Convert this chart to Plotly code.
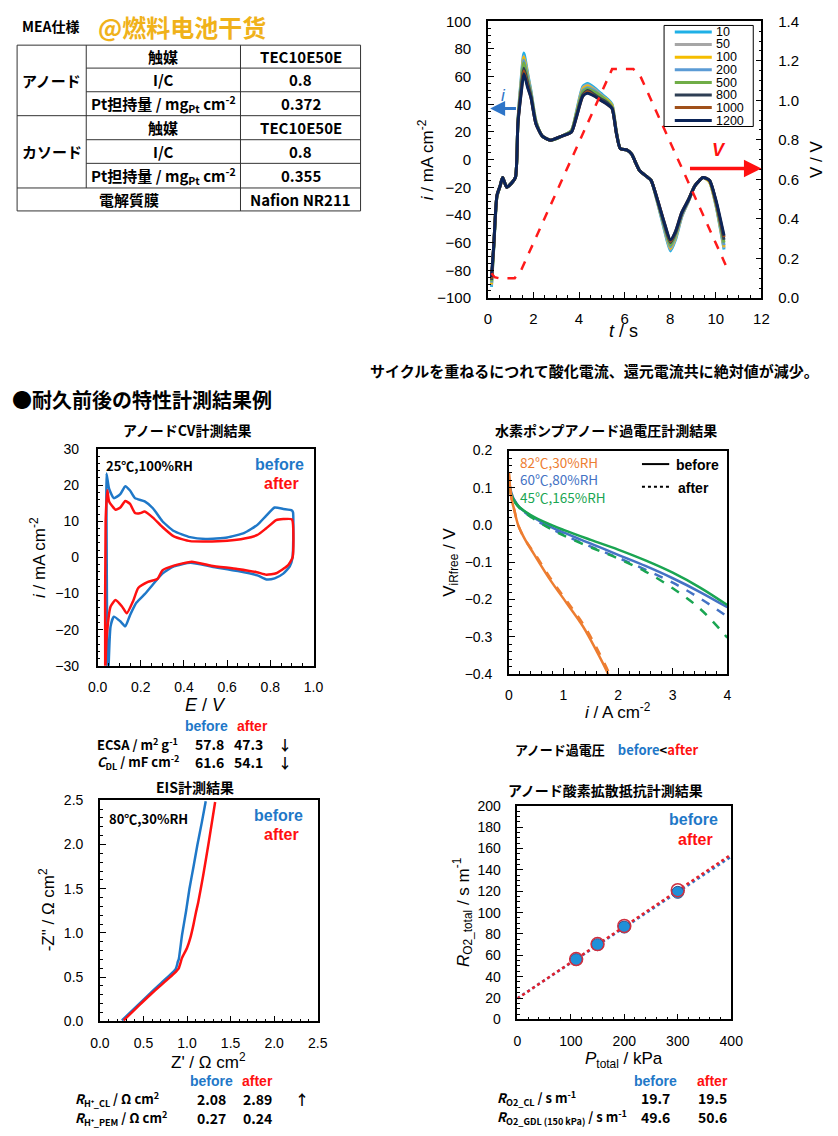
import plotly.graph_objects as go

W, H = 838, 1136
def X(p): return p / W
def Y(p): return 1 - p / H

BLUE = "#1f78c8"
RED = "#ff1010"
JP = "Noto Sans CJK JP"
LAT = "Liberation Sans, Arial"
NAR = "Liberation Sans Narrow, Liberation Sans, Noto Sans CJK JP"

# ---------------- data: CV cycling (top right) ----------------
t_s = [0.16, 0.26, 0.4, 0.54, 0.65, 0.83, 1.04, 1.21, 1.32, 1.47, 1.58, 1.75, 1.89, 2.11, 2.39,
       2.75, 3.25, 3.67, 3.89, 4.17, 4.38, 4.67, 4.95, 5.24, 5.45, 5.64, 5.81, 6.09, 6.31, 6.45,
       6.66, 6.95, 7.16, 7.44, 7.73, 8.01, 8.23, 8.51, 8.8, 9.08, 9.44, 9.72, 10.0, 10.36]
i_10 = [-92, -64, -27, -19, -13, -20, -17, -13, 28, 60, 77, 62, 50, 28, 17, 14, 17, 21, 35, 53, 55, 52,
        48, 44, 40, 20, 8, 7, 4, -1, -8, -12, -15, -31, -50, -66, -58, -41, -30, -19, -13, -16, -33, -65]
i_50 = [-91, -64, -27, -19, -13, -20, -17, -13, 28, 58, 75, 61, 49, 28, 17, 14, 17, 21, 34, 52, 54, 51,
        47, 43, 39, 20, 8, 7, 4, -1, -8, -12, -15, -31, -49, -65, -57, -41, -30, -19, -13, -16, -32, -64]
i_100 = [-90, -63, -27, -19, -13, -20, -17, -13, 27, 57, 74, 60, 48, 27, 17, 14, 17, 21, 34, 51, 53, 50,
         46, 43, 39, 20, 8, 7, 4, -1, -8, -12, -15, -30, -48, -64, -56, -40, -30, -19, -13, -16, -32, -63]
i_200 = [-89, -63, -27, -19, -13, -20, -17, -13, 27, 56, 72, 59, 48, 27, 17, 14, 17, 21, 33, 50, 52, 50,
         46, 42, 38, 20, 8, 7, 4, -1, -8, -12, -15, -30, -48, -63, -55, -40, -30, -19, -13, -15, -31, -62]
i_500 = [-88, -63, -26, -19, -13, -20, -17, -13, 27, 54, 70, 57, 47, 27, 17, 14, 17, 21, 33, 49, 51, 49,
         46, 42, 38, 19, 8, 7, 4, -1, -8, -12, -15, -30, -47, -62, -54, -39, -29, -19, -13, -15, -31, -60]
i_800 = [-87, -62, -26, -19, -13, -20, -17, -13, 26, 52, 66, 55, 46, 26, 17, 14, 17, 20, 32, 47, 50, 47,
         44, 41, 37, 19, 8, 7, 4, -1, -8, -12, -15, -29, -46, -60, -53, -39, -29, -19, -13, -15, -30, -58]
i_1000 = [-86, -62, -26, -19, -13, -20, -17, -13, 26, 50, 64, 53, 45, 26, 17, 14, 17, 20, 31, 46, 49, 46,
          43, 40, 37, 19, 8, 7, 4, -1, -8, -12, -15, -29, -45, -59, -52, -38, -29, -19, -13, -15, -30, -56]
i_1200 = [-85, -62, -26, -19, -13, -20, -17, -13, 26, 49, 62, 52, 45, 26, 17, 14, 17, 20, 31, 46, 48, 46,
          43, 40, 37, 19, 8, 7, 4, -1, -8, -12, -15, -29, -45, -58, -52, -38, -29, -19, -13, -15, -29, -55]
cycle_labels = ["10", "50", "100", "200", "500", "800", "1000", "1200"]
cycle_currents = [i_10, i_50, i_100, i_200, i_500, i_800, i_1000, i_1200]
cycle_colors = ["#1fb0e6", "#a6a6a6", "#f5bd00", "#5b9bd5", "#70ad47", "#2e3f55", "#a0501a", "#0b2458"]
v_t = [0.16, 0.3, 0.47, 1.18, 1.46, 5.45, 6.38, 6.66, 10.43]
v_v = [0.125, 0.105, 0.1, 0.1, 0.14, 1.158, 1.158, 1.13, 0.167]

# ---------------- data: anode CV before/after ----------------
cv_before_E = [0.045, 0.041, 0.041, 0.053, 0.075, 0.105, 0.128, 0.15, 0.173, 0.218, 0.256, 0.3, 0.353,
               0.428, 0.5, 0.6, 0.68, 0.74, 0.78, 0.82, 0.86, 0.9, 0.905, 0.903, 0.89, 0.86, 0.82, 0.782,
               0.74, 0.65, 0.53, 0.43, 0.353, 0.3, 0.256, 0.218, 0.18, 0.15, 0.128, 0.105, 0.075, 0.06, 0.05]
cv_before_i = [-32, 10, 23.2, 19, 16.4, 17.5, 19.7, 18.5, 16.4, 15.5, 13.6, 10, 7.3, 5.6, 5.1, 5.5, 6.8,
               9, 11.5, 13.8, 13.4, 13, 12.5, 0, -2.5, -4.5, -5.8, -6.1, -5, -3.8, -2.6, -1.5, -2.5, -4.5,
               -7.5, -10.2, -12.5, -16, -19.1, -17.7, -16.4, -19.1, -32]
cv_after_E = [0.035, 0.037, 0.045, 0.053, 0.083, 0.105, 0.128, 0.15, 0.173, 0.195, 0.218, 0.256, 0.3,
              0.353, 0.428, 0.5, 0.6, 0.68, 0.74, 0.78, 0.827, 0.86, 0.9, 0.903, 0.88, 0.827, 0.782, 0.737,
              0.647, 0.526, 0.436, 0.353, 0.3, 0.278, 0.233, 0.188, 0.165, 0.135, 0.113, 0.083, 0.06,
              0.041, 0.035]
cv_after_i = [-32, 10, 18.6, 15.5, 13.2, 13.8, 15.6, 14.8, 12.3, 12.2, 12.7, 11, 8.4, 5.8, 4.5, 4.4, 4.6,
              5.2, 6.2, 8, 10.3, 10.6, 10.5, 0, -2.3, -4.4, -4.8, -4.1, -3.2, -2.3, -1.2, -2.3, -3.6, -5.9,
              -6.8, -8.5, -12, -15.5, -13.6, -11.8, -13.6, -22.7, -32]

# ---------------- data: hydrogen pump anode overpotential ----------------
hp_i = [0, 0.05, 0.1, 0.2, 0.4, 0.7, 1.0, 1.5, 2.0, 2.5, 3.0, 3.5, 4.0]
hp_i_82 = [0, 0.05, 0.1, 0.17, 0.3, 0.46, 0.76, 1.06, 1.355, 1.59, 1.80, 1.84]
hp_82_before = [0.14, 0.07, 0.04, 0.0, -0.04, -0.078, -0.148, -0.21, -0.272, -0.334, -0.395, -0.41]
hp_i_82_after = [0, 0.05, 0.1, 0.17, 0.3, 0.48, 0.785, 1.09, 1.385, 1.62, 1.825, 1.86]
hp_82_after = [0.14, 0.07, 0.04, 0.0, -0.04, -0.078, -0.148, -0.21, -0.272, -0.334, -0.395, -0.41]
hp_60_before = [0.118, 0.085, 0.067, 0.047, 0.025, 0.0, -0.02, -0.05, -0.08, -0.11, -0.143, -0.18, -0.221]
hp_60_after = [0.118, 0.085, 0.067, 0.046, 0.022, -0.004, -0.026, -0.058, -0.088, -0.12, -0.155, -0.197, -0.246]
hp_45_before = [0.105, 0.08, 0.065, 0.047, 0.027, 0.005, -0.013, -0.04, -0.066, -0.095, -0.128, -0.168, -0.215]
hp_45_after = [0.108, 0.08, 0.064, 0.045, 0.022, -0.005, -0.028, -0.06, -0.09, -0.125, -0.17, -0.225, -0.303]
ORANGE, HBLUE, GREEN = "#ed7d31", "#4472c4", "#1aa552"

# ---------------- data: EIS ----------------
eis_before_re = [0.253, 0.4, 0.55, 0.7, 0.8, 0.87, 0.887, 0.893, 0.905, 0.943, 0.99, 1.028, 1.075, 1.12, 1.17, 1.215]
eis_before_im = [0.01, 0.15, 0.29, 0.43, 0.52, 0.59, 0.643, 0.67, 0.70, 0.977, 1.25, 1.5, 1.75, 2.0, 2.25, 2.49]
eis_after_re = [0.272, 0.45, 0.6, 0.757, 0.85, 0.905, 0.943, 1.0, 1.04, 1.073, 1.1, 1.129, 1.185, 1.248, 1.323]
eis_after_im = [0.01, 0.18, 0.32, 0.457, 0.54, 0.6, 0.718, 0.83, 0.95, 1.088, 1.22, 1.348, 1.646, 2.017, 2.48]

# ---------------- data: O2 diffusion resistance ----------------
o2_p = [110, 150, 200, 300]
o2_before = [56, 70, 86.5, 119]
o2_after = [56.5, 70.5, 87.5, 121]
fit_p = [0, 400]
fit_before = [19.7, 152.5]
fit_after = [19.5, 154.5]

fig = go.Figure()

# top-right chart
for lab, vals, col in zip(cycle_labels, cycle_currents, cycle_colors):
    fig.add_trace(go.Scatter(x=t_s, y=vals, mode="lines", name=lab,
                             line=dict(color=col, width=3, shape="spline", smoothing=0.6),
                             xaxis="x", yaxis="y", showlegend=False))
fig.add_trace(go.Scatter(x=v_t, y=v_v, mode="lines", line=dict(color="#ff1a1a", width=2.5, dash="dash"),
                         xaxis="x", yaxis="y2", showlegend=False))

# CV
fig.add_trace(go.Scatter(x=cv_before_E, y=cv_before_i, mode="lines",
                         line=dict(color=BLUE, width=2.5, shape="spline", smoothing=0.5),
                         xaxis="x2", yaxis="y3", showlegend=False))
fig.add_trace(go.Scatter(x=cv_after_E, y=cv_after_i, mode="lines",
                         line=dict(color=RED, width=2.5, shape="spline", smoothing=0.5),
                         xaxis="x2", yaxis="y3", showlegend=False))

# hydrogen pump
fig.add_trace(go.Scatter(x=hp_i, y=hp_60_before, mode="lines", line=dict(color=HBLUE, width=2.5, shape="spline"),
                         xaxis="x3", yaxis="y4", showlegend=False))
fig.add_trace(go.Scatter(x=hp_i, y=hp_60_after, mode="lines", line=dict(color=HBLUE, width=2.5, dash="dash", shape="spline"),
                         xaxis="x3", yaxis="y4", showlegend=False))
fig.add_trace(go.Scatter(x=hp_i, y=hp_45_after, mode="lines", line=dict(color=GREEN, width=2.5, dash="dash", shape="spline"),
                         xaxis="x3", yaxis="y4", showlegend=False))
fig.add_trace(go.Scatter(x=hp_i, y=hp_45_before, mode="lines", line=dict(color=GREEN, width=2.5, shape="spline"),
                         xaxis="x3", yaxis="y4", showlegend=False))
fig.add_trace(go.Scatter(x=hp_i_82, y=hp_82_before, mode="lines", line=dict(color=ORANGE, width=2.5, shape="spline"),
                         xaxis="x3", yaxis="y4", showlegend=False))
fig.add_trace(go.Scatter(x=hp_i_82_after, y=hp_82_after, mode="lines", line=dict(color=ORANGE, width=2.5, dash="dash", shape="spline"),
                         xaxis="x3", yaxis="y4", showlegend=False))

# EIS
fig.add_trace(go.Scatter(x=eis_before_re, y=eis_before_im, mode="lines", line=dict(color=BLUE, width=2.5, shape="spline", smoothing=0.5),
                         xaxis="x4", yaxis="y5", showlegend=False))
fig.add_trace(go.Scatter(x=eis_after_re, y=eis_after_im, mode="lines", line=dict(color=RED, width=2.5, shape="spline", smoothing=0.5),
                         xaxis="x4", yaxis="y5", showlegend=False))

# O2
fig.add_trace(go.Scatter(x=fit_p, y=fit_before, mode="lines", line=dict(color="#2e75c8", width=2.5, dash="dot"),
                         xaxis="x5", yaxis="y6", showlegend=False))
fig.add_trace(go.Scatter(x=fit_p, y=fit_after, mode="lines", line=dict(color="#e8202a", width=2.5, dash="dot"),
                         xaxis="x5", yaxis="y6", showlegend=False))
fig.add_trace(go.Scatter(x=o2_p, y=o2_before, mode="markers",
                         marker=dict(color="#1f90d8", size=12, line=dict(color="#30508a", width=1)),
                         xaxis="x5", yaxis="y6", showlegend=False))
fig.add_trace(go.Scatter(x=o2_p, y=o2_after, mode="markers",
                         marker=dict(color="rgba(0,0,0,0)", size=13, line=dict(color="#d03040", width=1.5)),
                         xaxis="x5", yaxis="y6", showlegend=False))


def axis(domain, rng, dtick, minor, fmt=None, standoff=10, size=14, anchor=None, mirror=True, side=None):
    d = dict(range=rng, dtick=dtick, tick0=rng[0], showline=True, linecolor="black",
             linewidth=1.5, mirror=mirror, ticks="inside", ticklen=6, tickwidth=1, tickcolor="black",
             showgrid=False, zeroline=False, tickfont=dict(family=LAT, size=size, color="black"),
             minor=dict(ticks="inside", ticklen=3, tickcolor="black", dtick=minor, tickwidth=1),
             ticklabelstandoff=standoff, fixedrange=True)
    if domain:
        d["domain"] = domain
    if fmt:
        d["tickformat"] = fmt
    if anchor:
        d["anchor"] = anchor
    if side:
        d["side"] = side
    return d

fig.update_layout(
    width=W, height=H, autosize=False, margin=dict(l=0, r=0, t=0, b=0),
    paper_bgcolor="white", plot_bgcolor="white", showlegend=False,
    xaxis=axis([X(490.7), X(771.7)], [0, 12], 2, 0.5, standoff=6, size=15, anchor="y"),
    yaxis=axis([Y(293.3), Y(12.5)], [-100, 100], 20, 5, standoff=12, size=15, anchor="x", mirror=False),
    yaxis2=dict(axis(None, [0, 1.4], 0.2, 0.05, fmt=".1f", standoff=12, size=15, anchor="x", mirror=False, side="right"),
                overlaying="y"),
    xaxis2=axis([X(90), X(311.7)], [0, 1.0], 0.2, 0.05, fmt=".1f", standoff=8, anchor="y3"),
    yaxis3=axis([Y(666.7), Y(446.7)], [-30, 30], 10, 2, standoff=14, anchor="x2"),
    xaxis3=axis([X(512.3), X(736.7)], [0, 4], 1, 0.2, standoff=8, anchor="y4"),
    yaxis4=axis([Y(675), Y(448.3)], [-0.4, 0.2], 0.1, 0.02, fmt=".1f", standoff=12, anchor="x3"),
    xaxis4=axis([X(92.3), X(316)], [0, 2.5], 0.5, 0.1, fmt=".1f", standoff=8, anchor="y5"),
    yaxis5=axis([Y(1027.7), Y(803.3)], [0, 2.5], 0.5, 0.1, fmt=".1f", standoff=12, anchor="x4"),
    xaxis5=axis([X(521), X(740.7)], [0, 400], 100, 20, standoff=8, anchor="y6"),
    yaxis6=axis([Y(1025.7), Y(809)], [0, 200], 20, 5, standoff=12, anchor="x5"),
)

ann = []
def T(x, y, text, size=14, color="black", xa="center", ya="middle", font=JP, angle=0):
    ann.append(dict(x=X(x), y=Y(y), xref="paper", yref="paper", text=text, showarrow=False,
                    xanchor=xa, yanchor=ya, textangle=angle,
                    font=dict(family=font, size=size, color=color)))

# ---- header & table ----
T(10, 17, "<b>MEA仕様</b>", 14, xa="left")
T(88, 18, "<b>@燃料电池干货</b>", 24, "#f0b21a", xa="left", font="Noto Sans CJK SC")

shapes = []
def L(x0, y0, x1, y1, color="#333333", width=1, dash=None):
    s = dict(type="line", xref="paper", yref="paper", x0=X(x0), y0=Y(y0), x1=X(x1), y1=Y(y1),
             line=dict(color=color, width=width))
    if dash:
        s["line"]["dash"] = dash
    shapes.append(s)

tx0, tx1, txa, txb = 7.3, 360, 78.3, 236.7
rows = [36.7, 60, 84, 108.3, 132.7, 156.7, 181.7, 205]
L(tx0, rows[0], tx1, rows[0]); L(tx0, rows[-1], tx1, rows[-1])
L(tx0, rows[0], tx0, rows[-1]); L(tx1, rows[0], tx1, rows[-1])
L(tx0, rows[3], tx1, rows[3]); L(tx0, rows[6], tx1, rows[6])
for r in (1, 2, 4, 5):
    L(txa, rows[r], tx1, rows[r])
L(txa, rows[0], txa, rows[6]); L(txb, rows[0], txb, rows[-1])

table_c1 = ["触媒", "I/C", "Pt担持量 / mg<sub>Pt</sub> cm<sup>-2</sup>", "触媒", "I/C", "Pt担持量 / mg<sub>Pt</sub> cm<sup>-2</sup>"]
table_c2 = ["TEC10E50E", "0.8", "0.372", "TEC10E50E", "0.8", "0.355"]
for k in range(6):
    yc = (rows[k] + rows[k + 1]) / 2
    T((txa + txb) / 2, yc, "<b>" + table_c1[k] + "</b>", 15)
    T((txb + tx1) / 2, yc, "<b>" + table_c2[k] + "</b>", 15)
T((tx0 + txa) / 2, (rows[0] + rows[3]) / 2, "<b>アノード</b>", 15)
T((tx0 + txa) / 2, (rows[3] + rows[6]) / 2, "<b>カソード</b>", 15)
T((tx0 + txb) / 2, (rows[6] + rows[7]) / 2, "<b>電解質膜</b>", 15)
T((txb + tx1) / 2, (rows[6] + rows[7]) / 2, "<b>Nafion NR211</b>", 15)

# ---- top chart labels ----
T(426.7, 153, "<i>i</i> / mA cm<sup>-2</sup>", 17, font=LAT, angle=-90)
T(828, 152, "V / V", 17, font=LAT, angle=-90)
T(630, 327, "<i>t</i> / s", 18, font=LAT)
shapes.append(dict(type="rect", xref="paper", yref="paper", x0=X(671.7), y0=Y(16.7), x1=X(763.3), y1=Y(119.3),
                   line=dict(color="black", width=1), fillcolor="white"))
leg_y = [23.3, 36, 49, 61.7, 74.7, 87.3, 100, 113.3]
for yy, lab, col in zip(leg_y, cycle_labels, cycle_colors):
    L(682.7, yy, 720.7, yy, color=col, width=3)
    T(723.3, yy, lab, 12.5, font=LAT, xa="left")
ann.append(dict(x=0.1, y=37, ax=1.3, ay=37, xref="x", yref="y", axref="x", ayref="y", text="",
                showarrow=True, arrowhead=2, arrowsize=1, arrowwidth=3, arrowcolor="#2e75c8"))
T(506.7, 88, "<i>i</i>", 17, "#2e75c8", font=LAT)
ann.append(dict(x=12, y=0.655, ax=8.8, ay=0.655, xref="x", yref="y2", axref="x", ayref="y2", text="",
                showarrow=True, arrowhead=2, arrowsize=1, arrowwidth=3.5, arrowcolor="#ff1010"))
T(728.3, 143, "<b><i>V</i></b>", 18, "#ff1010", font=LAT)

T(833, 367, "<b>サイクルを重ねるにつれて酸化電流、還元電流共に絶対値が減少。</b>", 15, xa="right")
T(0, 396, "<b>●耐久前後の特性計測結果例</b>", 20, xa="left")

# ---- CV ----
T(182, 427, "<b>アノードCV計測結果</b>", 14)
T(97, 463, "<b>25℃,100%RH</b>", 13, xa="left")
T(304, 462, "<b>before</b>", 16, BLUE, xa="right", font=NAR)
T(259, 482, "<b>after</b>", 16, RED, xa="left", font=NAR)
T(28, 557, "<i>i</i> / mA cm<sup>-2</sup>", 17, font=LAT, angle=-90)
T(201, 707, "<i>E</i> / <i>V</i>", 18, font=LAT)
T(226, 728, "<b>before</b>", 14, BLUE, xa="right", font=NAR)
T(231, 728, "<b>after</b>", 14, RED, xa="left", font=NAR)
T(87, 746, "<b>ECSA / m<sup>2</sup> g<sup>-1</sup></b>", 13, xa="left")
T(205, 746, "<b>57.8</b>", 14); T(245, 746, "<b>47.3</b>", 14); T(282, 746, "<b>↓</b>", 14)
T(87, 764, "<b><i>C</i><sub>DL</sub> / mF cm<sup>-2</sup></b>", 13, xa="left")
T(205, 764, "<b>61.6</b>", 14); T(245, 764, "<b>54.1</b>", 14); T(282, 764, "<b>↓</b>", 14)

# ---- hydrogen pump ----
T(612, 427, "<b>水素ポンプアノード過電圧計測結果</b>", 14)
T(522, 460, "82℃,30%RH", 13.5, ORANGE, xa="left")
T(522, 477.5, "60℃,80%RH", 13.5, HBLUE, xa="left")
T(522, 495, "45℃,165%RH", 13.5, GREEN, xa="left")
L(649, 462, 677, 462, color="black", width=2)
L(649, 485, 677, 485, color="black", width=2, dash="dot")
T(682, 463, "<b>before</b>", 14, xa="left", font=NAR)
T(684, 486, "<b>after</b>", 14, xa="left", font=NAR)
T(452, 562, "V<sub>iRfree</sub> / V", 17, font=LAT, angle=-90)
T(624, 713, "<i>i</i> / A cm<sup>-2</sup>", 17, font=LAT)
T(517, 752, "<b>アノード過電圧　<span style='color:#1f78c8'>before</span>&lt;<span style='color:#ff1010'>after</span></b>", 13, xa="left")

# ---- EIS ----
T(190, 790, "<b>EIS計測結果</b>", 14)
T(100, 822, "<b>80℃,30%RH</b>", 13, xa="left")
T(303, 819, "<b>before</b>", 16, BLUE, xa="right", font=NAR)
T(259, 838, "<b>after</b>", 16, RED, xa="left", font=NAR)
T(38, 915, "-Z\" / Ω cm<sup>2</sup>", 17, font=LAT, angle=-90)
T(204, 1068, "Z' / Ω cm<sup>2</sup>", 17, font=LAT)
T(207, 1088, "<b>before</b>", 14, BLUE, font=NAR)
T(254, 1088, "<b>after</b>", 14, RED, font=NAR)
T(65, 1107, "<b><i>R</i><sub>H⁺_CL</sub> / Ω cm<sup>2</sup></b>", 13, xa="left")
T(207, 1107, "<b>2.08</b>", 14); T(254, 1107, "<b>2.89</b>", 14); T(300, 1107, "<b>↑</b>", 14)
T(65, 1126, "<b><i>R</i><sub>H⁺_PEM</sub> / Ω cm<sup>2</sup></b>", 13, xa="left")
T(207, 1126, "<b>0.27</b>", 14); T(254, 1126, "<b>0.24</b>", 14)

# ---- O2 ----
T(612, 793, "<b>アノード酸素拡散抵抗計測結果</b>", 14)
T(729, 823, "<b>before</b>", 16, BLUE, xa="right", font=NAR)
T(684, 843, "<b>after</b>", 16, RED, xa="left", font=NAR)
T(465, 917, "<i>R</i><sub>O2_total</sub> / s m<sup>-1</sup>", 17, font=LAT, angle=-90)
T(631, 1067, "<i>P</i><sub>total</sub> / kPa", 17, font=LAT)
T(663, 1088, "<b>before</b>", 14, BLUE, font=NAR)
T(721, 1088, "<b>after</b>", 14, RED, font=NAR)
T(498, 1106, "<b><i>R</i><sub>O2_CL</sub> / s m<sup>-1</sup></b>", 13, xa="left")
T(663, 1106, "<b>19.7</b>", 14); T(721, 1106, "<b>19.5</b>", 14)
T(498, 1125, "<b><i>R</i><sub>O2_GDL (150 kPa)</sub> / s m<sup>-1</sup></b>", 13, xa="left")
T(663, 1125, "<b>49.6</b>", 14); T(721, 1125, "<b>50.6</b>", 14)

fig.update_layout(annotations=ann, shapes=shapes)
fig.write_html("out.html")
